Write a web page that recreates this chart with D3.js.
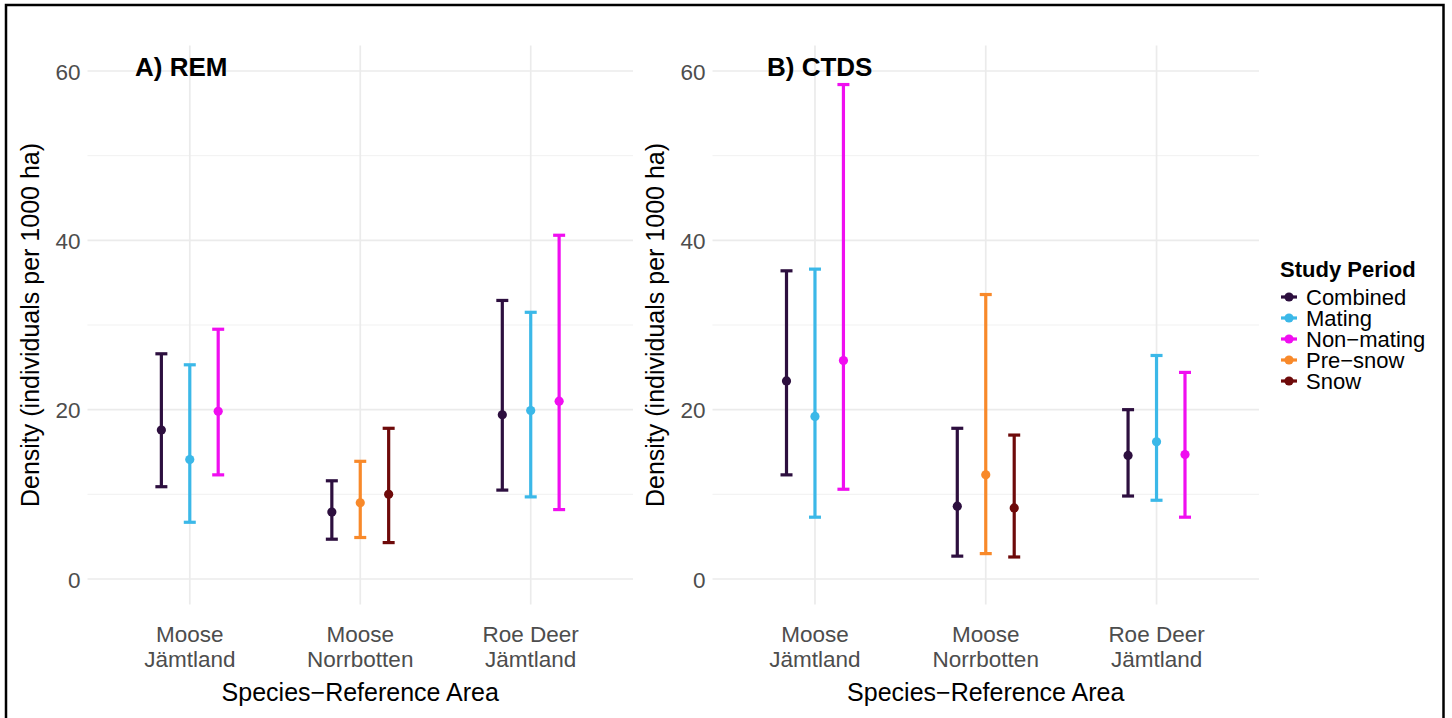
<!DOCTYPE html>
<html>
<head>
<meta charset="utf-8">
<script src="https://cdn.jsdelivr.net/npm/d3@7"></script>
<style>
  html, body { margin: 0; padding: 0; background: #fff; }
  svg { display: block; font-family: "Liberation Sans", Arial, Helvetica, sans-serif; }
</style>
</head>
<body>
<svg id="chart" width="1452" height="718"></svg>
<script>
// ---- data ----
const categories = [["Moose", "Jämtland"], ["Moose", "Norrbotten"], ["Roe Deer", "Jämtland"]];
const periods = ["Combined", "Mating", "Non\u2212mating", "Pre\u2212snow", "Snow"];
const periodColors = ["#2D0F3F", "#3BB8E8", "#F00EF0", "#F8892A", "#6E0A0A"];
const yTicks = [0, 20, 40, 60];
const yMinorTicks = [10, 30, 50];

// each row: [categoryIndex, periodIndex, estimate, lower, upper]
const remData = [
  [0, 0, 17.6, 10.9, 26.6],
  [0, 1, 14.1, 6.7, 25.3],
  [0, 2, 19.8, 12.3, 29.5],
  [1, 0, 7.9, 4.7, 11.6],
  [1, 3, 9.0, 4.9, 13.9],
  [1, 4, 10.0, 4.3, 17.8],
  [2, 0, 19.4, 10.5, 32.9],
  [2, 1, 19.9, 9.7, 31.5],
  [2, 2, 21.0, 8.2, 40.6]
];
const ctdsData = [
  [0, 0, 23.4, 12.3, 36.4],
  [0, 1, 19.2, 7.3, 36.6],
  [0, 2, 25.8, 10.6, 58.4],
  [1, 0, 8.6, 2.7, 17.8],
  [1, 3, 12.3, 3.0, 33.6],
  [1, 4, 8.4, 2.6, 17.0],
  [2, 0, 14.6, 9.8, 20.0],
  [2, 1, 16.2, 9.3, 26.4],
  [2, 2, 14.7, 7.3, 24.4]
];

const svg = d3.select("#chart");

// outer frame
svg.append("rect").attr("x", 6).attr("y", 5).attr("width", 1437.5).attr("height", 730)
  .attr("fill", "none").attr("stroke", "#000").attr("stroke-width", 2.5);

const y = d3.scaleLinear().domain([-3, 63]).range([604.4, 45.6]);

function panel(data, x0, x1, title, titleX, yTitleX) {
  const g = svg.append("g");
  // discrete x: positions 1..3 with 0.6 expansion
  const x = d3.scaleLinear().domain([0.4, 3.6]).range([x0, x1]);
  const dodge = 0.5 / 3;

  // minor grid
  g.selectAll(".ymin").data(yMinorTicks).enter().append("line")
    .attr("x1", x0).attr("x2", x1).attr("y1", d => y(d)).attr("y2", d => y(d))
    .attr("stroke", "#EFEFEF").attr("stroke-width", 0.9);
  // major grid
  g.selectAll(".ymaj").data(yTicks).enter().append("line")
    .attr("x1", x0).attr("x2", x1).attr("y1", d => y(d)).attr("y2", d => y(d))
    .attr("stroke", "#EBEBEB").attr("stroke-width", 1.7);
  g.selectAll(".xmaj").data(categories).enter().append("line")
    .attr("x1", (d, i) => x(i + 1)).attr("x2", (d, i) => x(i + 1))
    .attr("y1", y.range()[0]).attr("y2", y.range()[1])
    .attr("stroke", "#EBEBEB").attr("stroke-width", 1.7);

  // y axis tick labels
  const yAxis = d3.axisLeft(y).tickValues(yTicks).tickSize(0).tickPadding(0).tickFormat(d3.format("d"));
  const ya = g.append("g").attr("transform", `translate(${x0 - 7},0)`).call(yAxis);
  ya.select(".domain").remove();
  ya.selectAll("text").attr("fill", "#4D4D4D").style("font-size", "22.5px")
    .style("font-family", "'Liberation Sans', Arial, sans-serif").attr("dy", "0.36em");

  // x axis category labels
  categories.forEach((c, i) => {
    const t = g.append("text").attr("x", x(i + 1)).attr("text-anchor", "middle")
      .attr("fill", "#4D4D4D").style("font-size", "22.5px");
    t.append("tspan").attr("x", x(i + 1)).attr("y", 642).text(c[0]);
    t.append("tspan").attr("x", x(i + 1)).attr("y", 667).text(c[1]);
  });

  // axis titles
  g.append("text").attr("x", (x0 + x1) / 2).attr("y", 701).attr("text-anchor", "middle")
    .style("font-size", "25px").attr("fill", "#000").text("Species\u2212Reference Area");
  g.append("text").attr("transform", `translate(${yTitleX},${(y.range()[0] + y.range()[1]) / 2}) rotate(-90)`)
    .attr("text-anchor", "middle").style("font-size", "25px").attr("fill", "#000")
    .text("Density (individuals per 1000 ha)");

  // panel title
  g.append("text").attr("x", titleX).attr("y", 75.5).style("font-size", "26px")
    .style("font-weight", "bold").attr("fill", "#000").text(title);

  // error bars
  const slot = {};
  data.forEach(d => { (slot[d[0]] = slot[d[0]] || []).push(d[1]); });
  const xpos = d => {
    const list = slot[d[0]];
    const k = list.indexOf(d[1]);
    return x(d[0] + 1 + (k - (list.length - 1) / 2) * dodge);
  };
  const capW = 6;
  const eb = g.selectAll(".eb").data(data).enter().append("g");
  eb.append("line").attr("x1", xpos).attr("x2", xpos)
    .attr("y1", d => y(d[3])).attr("y2", d => y(d[4]))
    .attr("stroke", d => periodColors[d[1]]).attr("stroke-width", 3.2);
  eb.append("line").attr("x1", d => xpos(d) - capW).attr("x2", d => xpos(d) + capW)
    .attr("y1", d => y(d[4])).attr("y2", d => y(d[4]))
    .attr("stroke", d => periodColors[d[1]]).attr("stroke-width", 3.2);
  eb.append("line").attr("x1", d => xpos(d) - capW).attr("x2", d => xpos(d) + capW)
    .attr("y1", d => y(d[3])).attr("y2", d => y(d[3]))
    .attr("stroke", d => periodColors[d[1]]).attr("stroke-width", 3.2);
  eb.append("circle").attr("cx", xpos).attr("cy", d => y(d[2])).attr("r", 4.6)
    .attr("fill", d => periodColors[d[1]]);
}

panel(remData, 87.5, 633, "A) REM", 135, 39);
panel(ctdsData, 712.5, 1259, "B) CTDS", 767, 664);

// legend
const lg = svg.append("g");
lg.append("text").attr("x", 1280).attr("y", 277).style("font-size", "22px")
  .style("font-weight", "bold").attr("fill", "#000").text("Study Period");
periods.forEach((p, i) => {
  const cy = 297 + i * 21;
  lg.append("line").attr("x1", 1281).attr("x2", 1297).attr("y1", cy).attr("y2", cy)
    .attr("stroke", periodColors[i]).attr("stroke-width", 3.2);
  lg.append("circle").attr("cx", 1289).attr("cy", cy).attr("r", 4.6).attr("fill", periodColors[i]);
  lg.append("text").attr("x", 1306).attr("y", cy + 8).style("font-size", "22px")
    .attr("fill", "#000").text(p);
});
</script>
</body>
</html>
